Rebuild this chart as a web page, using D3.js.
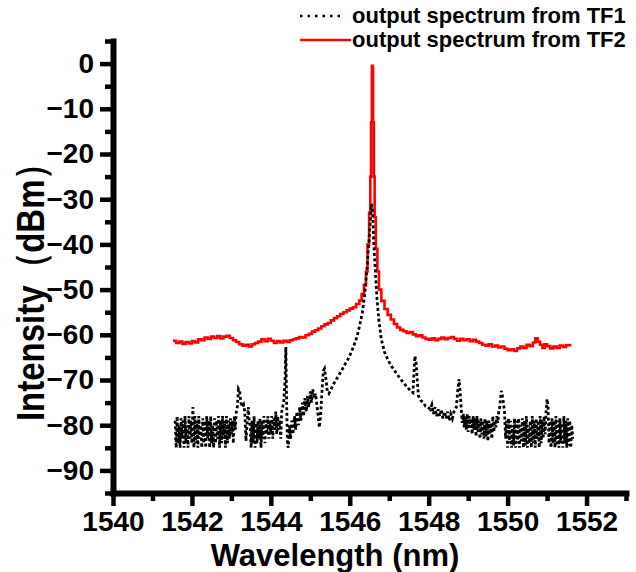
<!DOCTYPE html>
<html>
<head>
<meta charset="utf-8">
<script src="https://cdn.jsdelivr.net/npm/d3@7/dist/d3.min.js"></script>
<style>
  body { margin: 0; background: #fff; }
  text { font-family: "Liberation Sans", Arial, sans-serif; font-weight: bold; }
</style>
</head>
<body>
<svg id="chart" width="636" height="572"></svg>
<script>
// wavelength (nm) / intensity (dBm) pairs
var tf1Spectrum = [
  [1541.575,-79],[1541.600,-85],[1541.625,-78],[1541.650,-84],[1541.675,-80],[1541.700,-85],[1541.725,-78.5],
  [1541.750,-83],[1541.775,-79],[1541.800,-85],[1541.825,-78],[1541.850,-84],[1541.875,-80],[1541.900,-85],
  [1541.925,-78],[1541.950,-83],[1541.975,-79],[1542.000,-84],[1542.025,-76],[1542.050,-85],[1542.075,-78],
  [1542.100,-84],[1542.125,-79],[1542.150,-85],[1542.175,-78],[1542.200,-83],[1542.225,-80],[1542.250,-85],
  [1542.275,-78.5],[1542.300,-84],[1542.325,-79],[1542.350,-85],[1542.375,-78],[1542.400,-83],[1542.425,-79],
  [1542.450,-85],[1542.475,-78],[1542.500,-84],[1542.525,-80],[1542.550,-85],[1542.575,-78.5],[1542.600,-84],
  [1542.625,-79],[1542.650,-83],[1542.675,-78],[1542.700,-85],[1542.725,-79],[1542.750,-84],[1542.775,-78],
  [1542.800,-83],[1542.825,-79],[1542.850,-85],[1542.875,-78],[1542.900,-84],[1542.925,-79],[1542.950,-83],
  [1542.975,-78.5],[1543.000,-82],[1543.025,-79],[1543.050,-84],[1543.075,-78],[1543.100,-81],[1543.125,-77],
  [1543.15,-76],[1543.18,-72],[1543.21,-72.5],[1543.24,-75],[1543.28,-76],[1543.31,-75.5],[1543.34,-77],
  [1543.37,-83.5],[1543.40,-79],[1543.43,-76],[1543.45,-79],
  [1543.475,-80],[1543.500,-85],[1543.525,-79],[1543.550,-84],[1543.575,-78],[1543.600,-85],[1543.625,-79.5],
  [1543.650,-84],[1543.675,-79],[1543.700,-83],[1543.725,-78.5],[1543.750,-85],[1543.775,-79],[1543.800,-83],
  [1543.825,-78],[1543.850,-84],[1543.875,-79],[1543.900,-82],[1543.925,-78],[1543.950,-83],[1543.975,-79],
  [1544.000,-82],[1544.025,-78],[1544.050,-83],[1544.075,-78.5],[1544.100,-81],[1544.125,-77],[1544.150,-82],
  [1544.175,-78],[1544.200,-81],[1544.225,-79],[1544.250,-83],[1544.275,-77],
  [1544.30,-76],[1544.33,-74.5],[1544.36,-70],[1544.38,-62.7],[1544.40,-75],[1544.42,-84],[1544.44,-85],
  [1544.47,-80],[1544.50,-83],[1544.53,-79],[1544.56,-82],[1544.60,-78],[1544.63,-81],[1544.66,-77],[1544.70,-80],
  [1544.73,-76],[1544.76,-79],[1544.80,-75],[1544.83,-78],[1544.86,-74],[1544.90,-77],[1544.93,-73.5],[1544.96,-76],
  [1545.00,-72.5],[1545.03,-75],[1545.06,-72],[1545.10,-74],[1545.13,-73],[1545.16,-75],[1545.20,-78],[1545.23,-80.5],
  [1545.26,-78],[1545.30,-72],[1545.33,-68],[1545.36,-67.5],[1545.40,-70],[1545.43,-72.5],[1545.47,-73],
  [1545.52,-72.2],[1545.58,-71],[1545.65,-70],[1545.72,-69],[1545.80,-67.8],[1545.88,-66.5],[1545.95,-65.5],
  [1546.02,-64.2],[1546.10,-62.5],[1546.18,-60.5],[1546.25,-58],[1546.32,-55],[1546.38,-51],[1546.43,-46],
  [1546.48,-40],[1546.52,-35],[1546.55,-31],[1546.58,-33],[1546.61,-40],[1546.65,-46],[1546.69,-52],[1546.74,-57],
  [1546.80,-61],[1546.88,-63.8],[1546.98,-65.8],[1547.10,-67.5],[1547.22,-69],[1547.35,-70.5],[1547.45,-71.5],
  [1547.55,-72.5],[1547.60,-72.8],[1547.63,-68],[1547.65,-64.7],[1547.68,-66],[1547.71,-70],[1547.74,-73.5],
  [1547.80,-74.5],[1547.86,-75],[1547.92,-75.8],[1547.98,-76],[1548.04,-76.5],[1548.08,-75.5],[1548.12,-77.5],
  [1548.16,-76],[1548.20,-78],[1548.24,-76.5],[1548.28,-78],[1548.32,-76.5],[1548.36,-78.5],[1548.40,-77],
  [1548.44,-78.5],[1548.48,-77],[1548.52,-79],[1548.56,-77.5],[1548.60,-78.5],[1548.64,-77],[1548.70,-76],
  [1548.74,-72],[1548.77,-69.8],[1548.80,-73],[1548.83,-77],
  [1548.850,-79.5],[1548.875,-77.5],[1548.900,-80.5],[1548.925,-78],[1548.950,-81],[1548.975,-77.5],
  [1549.000,-81.5],[1549.025,-78],[1549.050,-80.5],[1549.075,-78.5],[1549.100,-82],[1549.125,-78],[1549.150,-81],
  [1549.175,-78.5],[1549.200,-82.5],[1549.225,-78],[1549.250,-81.5],[1549.275,-79],[1549.300,-83],[1549.325,-78.5],
  [1549.350,-82],[1549.375,-79],[1549.400,-83],[1549.425,-78.5],[1549.450,-82.5],[1549.475,-79],[1549.500,-83.5],
  [1549.525,-79],[1549.550,-82],[1549.575,-79.5],[1549.600,-83],[1549.625,-78],[1549.650,-81.5],[1549.675,-79],
  [1549.700,-80.5],[1549.725,-78],[1549.750,-79.5],[1549.775,-77],
  [1549.80,-76],[1549.84,-72.4],[1549.88,-74],[1549.92,-77],
  [1549.950,-83],[1549.975,-79],[1550.000,-85],[1550.025,-78.5],[1550.050,-84],[1550.075,-79],[1550.100,-85],
  [1550.125,-80],[1550.150,-84.5],[1550.175,-78.5],[1550.200,-85],[1550.225,-79],[1550.250,-84],[1550.275,-78.5],
  [1550.300,-85],[1550.325,-80],[1550.350,-83.5],[1550.375,-78.5],[1550.400,-85],[1550.425,-79],[1550.450,-84.5],
  [1550.475,-78],[1550.500,-85],[1550.525,-80],[1550.550,-84],[1550.575,-79],[1550.600,-85],[1550.625,-78],
  [1550.650,-84],[1550.675,-79],[1550.700,-85],[1550.725,-78.5],[1550.750,-83],[1550.775,-79],[1550.800,-85],
  [1550.825,-78],[1550.850,-84],[1550.875,-79],[1550.900,-83],[1550.925,-78],[1550.950,-82],[1550.975,-77],
  [1551.000,-74.2],[1551.025,-76],[1551.050,-84],[1551.075,-79],[1551.100,-85],[1551.125,-78.5],[1551.150,-84],
  [1551.175,-79],[1551.200,-85],[1551.225,-78],[1551.250,-84.5],[1551.275,-79],[1551.300,-85],[1551.325,-78.5],
  [1551.350,-84],[1551.375,-79.5],[1551.400,-85],[1551.425,-78],[1551.450,-84],[1551.475,-79],[1551.500,-85],
  [1551.525,-78.5],[1551.550,-84.5],[1551.575,-79],[1551.600,-85],[1551.625,-80],[1551.650,-83]
];

var tf2Spectrum = [
  [1541.52,-61.3],[1541.60,-61.8],[1541.68,-61.5],[1541.76,-62.0],[1541.84,-61.6],[1541.92,-61.9],[1542.00,-61.4],
  [1542.08,-61.7],[1542.16,-61.0],[1542.24,-61.2],[1542.32,-60.6],[1542.40,-60.9],[1542.48,-60.4],[1542.56,-60.7],
  [1542.64,-60.3],[1542.72,-60.8],[1542.80,-60.4],[1542.88,-60.2],[1542.96,-60.7],[1543.04,-61.2],[1543.12,-61.6],
  [1543.20,-62.1],[1543.28,-62.4],[1543.36,-62.2],[1543.44,-62.6],[1543.52,-62.1],[1543.60,-61.8],[1543.68,-61.5],
  [1543.76,-61.0],[1543.84,-61.4],[1543.92,-60.9],[1544.00,-61.3],[1544.08,-61.8],[1544.16,-61.4],[1544.24,-61.7],
  [1544.32,-61.3],[1544.40,-61.6],[1544.48,-61.2],[1544.56,-61.0],[1544.64,-60.8],[1544.72,-60.5],[1544.80,-60.6],
  [1544.88,-60.1],[1544.96,-59.8],[1545.04,-59.3],[1545.12,-59.0],[1545.20,-58.6],[1545.28,-58.1],[1545.36,-57.7],
  [1545.44,-57.4],[1545.52,-56.8],[1545.60,-56.3],[1545.68,-55.9],[1545.76,-55.4],[1545.84,-55.0],[1545.92,-54.6],
  [1546.00,-54.2],[1546.08,-53.9],[1546.16,-53.2],[1546.24,-52.4],[1546.30,-51.0],[1546.36,-49.0],[1546.41,-46.0],
  [1546.45,-40.0],[1546.49,-33.0],[1546.52,-25.0],[1546.54,-13.0],[1546.56,-0.5],[1546.58,-1.0],[1546.59,-13.0],
  [1546.61,-25.0],[1546.63,-34.0],[1546.66,-41.0],[1546.70,-46.0],[1546.74,-50.0],[1546.80,-52.5],[1546.88,-54.3],
  [1546.96,-55.6],[1547.04,-56.6],[1547.12,-57.6],[1547.20,-58.4],[1547.28,-58.9],[1547.36,-59.2],[1547.44,-59.6],
  [1547.52,-59.4],[1547.60,-59.9],[1547.68,-60.3],[1547.76,-60.1],[1547.84,-60.6],[1547.92,-60.9],[1548.00,-61.1],
  [1548.08,-60.8],[1548.16,-61.2],[1548.24,-60.9],[1548.32,-60.6],[1548.40,-61.0],[1548.48,-60.7],[1548.56,-60.5],
  [1548.64,-60.9],[1548.72,-61.3],[1548.80,-60.9],[1548.88,-61.2],[1548.96,-61.0],[1549.04,-61.4],[1549.12,-61.1],
  [1549.20,-61.5],[1549.28,-61.8],[1549.36,-62.2],[1549.44,-62.4],[1549.52,-62.1],[1549.60,-62.6],[1549.68,-62.4],
  [1549.76,-62.8],[1549.84,-62.6],[1549.92,-63.1],[1550.00,-63.4],[1550.08,-63.2],[1550.16,-63.6],[1550.24,-63.0],
  [1550.32,-62.6],[1550.40,-62.9],[1550.48,-62.2],[1550.56,-62.5],[1550.64,-61.7],[1550.70,-60.8],[1550.76,-61.5],
  [1550.82,-62.2],[1550.88,-62.9],[1550.94,-62.1],[1551.00,-62.5],[1551.08,-63.0],[1551.16,-62.6],[1551.24,-62.9],
  [1551.32,-62.4],[1551.40,-62.7],[1551.48,-62.3],[1551.58,-62.0]
];

var xMajorTicks = [1540, 1542, 1544, 1546, 1548, 1550, 1552];
var xMinorTicks = [1541, 1543, 1545, 1547, 1549, 1551, 1553];
var yMajorTicks = [0, -10, -20, -30, -40, -50, -60, -70, -80, -90];
var yMinorTicks = [5, -5, -15, -25, -35, -45, -55, -65, -75, -85, -95];
var legendLabels = ["output spectrum from TF1", "output spectrum from TF2"];

var svg = d3.select("#chart");
var dims = { width: 636, height: 572, margin: { top: 41, bottom: 79, left: 113, right: 10 } };

var xScale = d3.scaleLinear()
    .domain([1540, 1553])
    .range([dims.margin.left, dims.width - dims.margin.right]);
var yScale = d3.scaleLinear()
    .domain([-95, 5])
    .range([dims.height - dims.margin.bottom, dims.margin.top]);

// spectra
var line = d3.line()
    .x(d => xScale(d[0]))
    .y(d => yScale(d[1]));

svg.append("path")
    .datum(tf2Spectrum)
    .attr("fill", "none")
    .attr("stroke", "#ff0000")
    .attr("stroke-width", 2.6)
    .attr("d", line.curve(d3.curveStepAfter));

svg.append("path")
    .datum(tf1Spectrum)
    .attr("fill", "none")
    .attr("stroke", "#000")
    .attr("stroke-width", 2.8)
    .attr("stroke-dasharray", "3,2.5")
    .attr("d", line.curve(d3.curveLinear));

// axes
var xAxisY = yScale(-95);
var xMinor = svg.append("g")
    .attr("transform", `translate(0,${xAxisY})`)
    .call(d3.axisBottom(xScale).tickValues(xMinorTicks).tickSize(8).tickFormat(""));
var xMajor = svg.append("g")
    .attr("transform", `translate(0,${xAxisY})`)
    .call(d3.axisBottom(xScale).tickValues(xMajorTicks).tickSizeInner(13).tickSizeOuter(0)
        .tickPadding(5).tickFormat(d3.format("d")));

var yMinor = svg.append("g")
    .attr("transform", `translate(${dims.margin.left},0)`)
    .call(d3.axisLeft(yScale).tickValues(yMinorTicks).tickSize(8).tickFormat(""));
var yMajor = svg.append("g")
    .attr("transform", `translate(${dims.margin.left},0)`)
    .call(d3.axisLeft(yScale).tickValues(yMajorTicks).tickSizeInner(13).tickSizeOuter(0)
        .tickPadding(6));

[xMinor, yMinor].forEach(g => g.select(".domain").remove());
[xMinor, xMajor, yMinor, yMajor].forEach(g => {
    g.selectAll(".tick line").attr("stroke", "#000").attr("stroke-width", 4.5);
});
[xMajor, yMajor].forEach(g => {
    g.select(".domain").attr("stroke", "#000").attr("stroke-width", 6).attr("stroke-linecap", "square");
    g.selectAll(".tick text").style("font-size", "28px").attr("fill", "#000");
});

// axis titles
svg.append("text")
    .attr("x", 335)
    .attr("y", 566)
    .attr("text-anchor", "middle")
    .style("font-size", "31px")
    .text("Wavelength (nm)");

svg.append("text")
    .attr("transform", "translate(44,284) scale(1.2,1) rotate(-90)")
    .attr("text-anchor", "middle")
    .style("font-size", "33px")
    .text("Intensity（dBm）");

// legend
var legendY = [16, 40];
svg.append("line")
    .attr("x1", 300).attr("x2", 345).attr("y1", legendY[0]).attr("y2", legendY[0])
    .attr("stroke", "#000").attr("stroke-width", 2.5).attr("stroke-dasharray", "2.5,5");
svg.append("line")
    .attr("x1", 300).attr("x2", 351).attr("y1", legendY[1]).attr("y2", legendY[1])
    .attr("stroke", "#ff0000").attr("stroke-width", 2.5);
svg.selectAll(".legend-label")
    .data(legendLabels)
    .enter()
    .append("text")
    .attr("class", "legend-label")
    .attr("x", 352)
    .attr("y", (d, i) => legendY[i] + 7)
    .style("font-size", "22px")
    .text(d => d);
</script>
</body>
</html>
